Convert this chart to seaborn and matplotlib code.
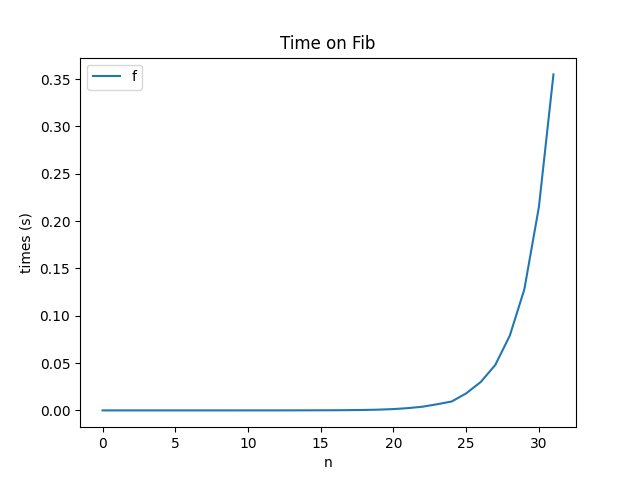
import numpy as np
import pandas as pd
import matplotlib
matplotlib.use('Agg')
import matplotlib.pyplot as plt
import seaborn as sns

n_values = list(range(0, 32))
times = [0.0, 0.0, 0.0, 0.0, 0.0, 0.000001, 0.000001, 0.000002, 0.000004,
         0.000006, 0.00001, 0.000016, 0.000025, 0.00004, 0.00007, 0.00011,
         0.00018, 0.0003, 0.00048, 0.0008, 0.0014, 0.0024, 0.0039, 0.0065,
         0.0094, 0.018, 0.030, 0.048, 0.079, 0.128, 0.215, 0.355]

df = pd.DataFrame({'n': n_values, 'times': times})

fig, ax = plt.subplots(figsize=(6.4, 4.8), dpi=100)
sns.lineplot(data=df, x='n', y='times', label='f', ax=ax)
ax.set_title("Time on Fib")
ax.set_xlabel("n")
ax.set_ylabel("times (s)")
ax.legend(loc='upper left')

plt.savefig('out.png')
plt.close()
